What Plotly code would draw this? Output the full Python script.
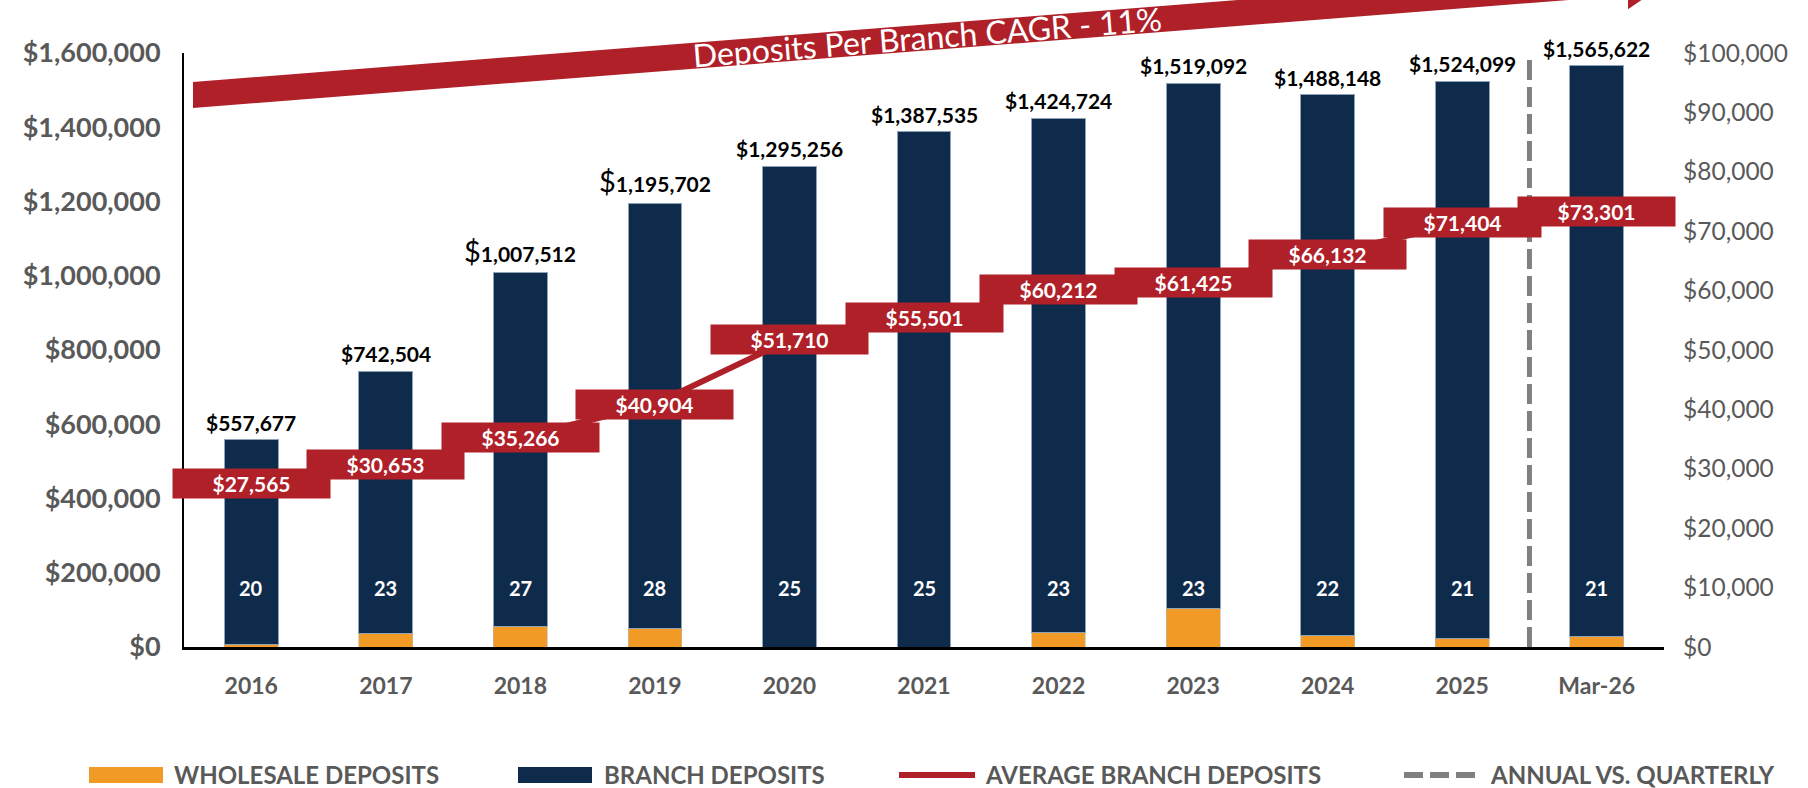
import plotly.graph_objects as go

# data
categories = ["2016", "2017", "2018", "2019", "2020", "2021", "2022", "2023", "2024", "2025", "Mar-26"]
total_deposits = [557677, 742504, 1007512, 1195702, 1295256, 1387535, 1424724, 1519092, 1488148, 1524099, 1565622]
wholesale_deposits = [8000, 37000, 54000, 51000, 0, 0, 40000, 105000, 32000, 24000, 27000]
branch_deposits = [t - w for t, w in zip(total_deposits, wholesale_deposits)]
avg_branch_deposits = [27565, 30653, 35266, 40904, 51710, 55501, 60212, 61425, 66132, 71404, 73301]
branch_count = [20, 23, 27, 28, 25, 25, 23, 23, 22, 21, 21]
left_ticks = list(range(0, 1600001, 200000))
right_ticks = list(range(0, 100001, 10000))
cagr_text = "Deposits Per Branch CAGR - 11%"
big_dollar = ["2018", "2019"]  # these labels use a larger plain "$" in the original

NAVY = "#0F2B4C"
ORANGE = "#F29A26"
RED = "#AF2029"
GRAY = "#595959"
DASH_GRAY = "#808080"
FONT = "Lato"

W, H = 1808, 788
L, R, T, B = 184, 144, 53, 141
PW, PH = W - L - R, H - T - B


def px(x):
    return (x - L) / PW


def py(y):
    return (H - B - y) / PH


fig = go.Figure()

fig.add_trace(go.Bar(
    x=categories, y=wholesale_deposits, name="WHOLESALE DEPOSITS",
    marker=dict(color=ORANGE, line=dict(color="#B7B7B7", width=0.6)),
))
fig.add_trace(go.Bar(
    x=categories, y=branch_deposits, name="BRANCH DEPOSITS",
    marker=dict(color=NAVY, line=dict(color="#8EA2B8", width=1)),
))
fig.add_trace(go.Scatter(
    x=categories, y=avg_branch_deposits, yaxis="y2", mode="lines",
    name="AVERAGE BRANCH DEPOSITS", line=dict(color=RED, width=6),
))

annotations = []
for i, (cat, tot) in enumerate(zip(categories, total_deposits)):
    txt = f"${tot:,}"
    if cat in big_dollar:
        txt = f"<span style='font-size:29px;font-weight:normal'>$</span>{tot:,}"
    annotations.append(dict(
        x=i, y=tot, xref="x", yref="y", text=txt, showarrow=False,
        yanchor="bottom", yshift=3,
        font=dict(family=FONT, size=21, color="black", weight="bold"),
    ))

for i, n in enumerate(branch_count):
    annotations.append(dict(
        x=i, y=160000, xref="x", yref="y", text=str(n), showarrow=False,
        font=dict(family=FONT, size=20, color="white", weight="bold"),
    ))

for i, v in enumerate(avg_branch_deposits):
    annotations.append(dict(
        x=i, y=v, xref="x", yref="y2", text=f"${v:,}", showarrow=False,
        bgcolor=RED, width=151, height=23, borderpad=3,
        font=dict(family=FONT, size=21, color="white", weight="bold"),
    ))

# CAGR arrow band
x0, yc0, slope, half = 193, 95, -0.0785, 13
xb, xtip, barb = 1628, 1672, 27


def yc(x):
    return yc0 + slope * (x - x0)


pts = [
    (x0, yc(x0) - half), (xb, yc(xb) - half), (xb, yc(xb) - barb),
    (xtip, yc(xtip)), (xb, yc(xb) + barb), (xb, yc(xb) + half), (x0, yc(x0) + half),
]
path = "M " + " L ".join(f"{px(a):.5f},{py(b):.5f}" for a, b in pts) + " Z"

shapes = [
    dict(type="path", path=path, xref="paper", yref="paper", fillcolor=RED, line=dict(width=0), layer="below"),
    dict(type="line", x0=9.5, x1=9.5, y0=0, y1=1600000, xref="x", yref="y",
         line=dict(color=DASH_GRAY, width=5, dash="20px,7px")),
]

annotations.append(dict(
    x=px(927), y=py(yc(927) - 1), xref="paper", yref="paper", text=cagr_text,
    xanchor="center", yanchor="middle", showarrow=False, textangle=-4.5,
    font=dict(family=FONT, size=32, color="white"),
))

# custom legend along the bottom
ly = 774
leg_font = dict(family=FONT, size=24, color=GRAY, weight="bold")
shapes += [
    dict(type="rect", xref="paper", yref="paper", x0=px(89), x1=px(163), y0=py(767), y1=py(783),
         fillcolor=ORANGE, line=dict(width=0)),
    dict(type="rect", xref="paper", yref="paper", x0=px(518), x1=px(592), y0=py(767), y1=py(783),
         fillcolor=NAVY, line=dict(width=0)),
    dict(type="line", xref="paper", yref="paper", x0=px(899), x1=px(975), y0=py(ly + 1), y1=py(ly + 1),
         line=dict(color=RED, width=6)),
    dict(type="line", xref="paper", yref="paper", x0=px(1404), x1=px(1477), y0=py(ly + 1), y1=py(ly + 1),
         line=dict(color=DASH_GRAY, width=6, dash="19px,7px")),
]
for xpos, label in [(172, "WHOLESALE DEPOSITS"), (602, "BRANCH DEPOSITS"),
                    (983, "AVERAGE BRANCH DEPOSITS"), (1488, "ANNUAL VS. QUARTERLY")]:
    annotations.append(dict(
        x=px(xpos), y=py(ly), xref="paper", yref="paper", text=label, showarrow=False,
        xanchor="left", yanchor="middle", font=leg_font,
    ))

fig.update_layout(
    width=W, height=H,
    margin=dict(l=L, r=R, t=T, b=B),
    barmode="stack", bargap=0.6,
    plot_bgcolor="rgba(0,0,0,0)", paper_bgcolor="white",
    showlegend=False,
    xaxis=dict(
        type="category", range=[-0.5, 10.5], showgrid=False,
        showline=True, linecolor="black", linewidth=3,
        ticks="", ticklabelstandoff=16,
        tickfont=dict(family=FONT, size=23, color=GRAY, weight="bold"),
    ),
    yaxis=dict(
        range=[0, 1600000], tickvals=left_ticks, ticktext=[f"${v:,}" for v in left_ticks],
        showgrid=False, zeroline=False, showline=True, linecolor="black", linewidth=2,
        ticks="", ticklabelstandoff=16,
        tickfont=dict(family=FONT, size=27, color=GRAY, weight="bold"),
    ),
    yaxis2=dict(
        range=[0, 100000], tickvals=right_ticks, ticktext=[f"${v:,}" for v in right_ticks],
        overlaying="y", side="right", showgrid=False, zeroline=False, showline=False,
        ticks="", ticklabelstandoff=18,
        tickfont=dict(family=FONT, size=24.5, color=GRAY),
    ),
    shapes=shapes,
    annotations=annotations,
)

fig.write_html("out.html", config={"displayModeBar": False},
               post_script="document.body.style.margin='0';document.body.style.overflow='hidden';")
